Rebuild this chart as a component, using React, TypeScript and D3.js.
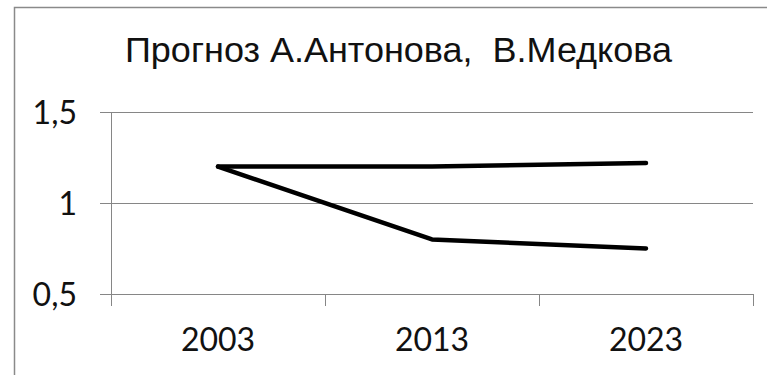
import React from "react";
import * as d3 from "d3";

const title = "Прогноз А.Антонова,  В.Медкова";
const categories = ["2003", "2013", "2023"];
const seriesA = [1.2, 1.2, 1.22];
const seriesB = [1.2, 0.8, 0.75];
const yTicks = [0.5, 1, 1.5];
const yTickLabels = ["0,5", "1", "1,5"];

const W = 767;
const H = 375;
const plotLeft = 111;
const plotRight = 753;
const plotTop = 112;
const plotBottom = 294;

export default function App() {
  const x = d3.scaleBand<string>().domain(categories).range([plotLeft, plotRight]);
  const y = d3.scaleLinear().domain([0.5, 1.5]).range([plotBottom, plotTop]);
  const line = d3
    .line<number>()
    .x((_, i) => (x(categories[i]) as number) + x.bandwidth() / 2)
    .y((d) => y(d));
  const grid = "#868686";
  const boundaries = [...categories.map((c) => x(c) as number), plotRight];
  return (
    <svg
      width={W}
      height={H}
      style={{ position: "absolute", left: 0, top: 0, background: "#fff" }}
    >
      <rect x={0} y={0} width={W} height={H} fill="#fff" />
      <rect x={14.5} y={7.5} width={W + 10} height={H + 10} fill="none" stroke="#8a8a8a" strokeWidth={1.5} />
      <text
        x={125}
        y={62}
        fontFamily="'Liberation Sans Narrow', 'Liberation Sans', Arial, sans-serif"
        fontSize={35}
        textLength={547}
        lengthAdjust="spacingAndGlyphs"
        fill="#111"
        style={{ whiteSpace: "pre" }}
      >
        {title}
      </text>
      {yTicks.map((t, i) => (
        <g key={t}>
          <line x1={plotLeft - 11} x2={plotRight} y1={Math.round(y(t)) + 0.5} y2={Math.round(y(t)) + 0.5} stroke={grid} strokeWidth={1} />
          <text
            x={77}
            y={y(t) + 12}
            textAnchor="end"
            fontFamily="Lato, 'Open Sans', sans-serif"
            fontSize={32}
            fill="#111"
          >
            {yTickLabels[i]}
          </text>
        </g>
      ))}
      <line x1={plotLeft + 0.5} x2={plotLeft + 0.5} y1={plotTop} y2={plotBottom + 12} stroke={grid} strokeWidth={1} />
      {boundaries.slice(1).map((b, i) => (
        <line key={i} x1={Math.round(b) + 0.5} x2={Math.round(b) + 0.5} y1={plotBottom} y2={plotBottom + 12} stroke={grid} strokeWidth={1} />
      ))}
      {categories.map((c) => (
        <text
          key={c}
          x={(x(c) as number) + x.bandwidth() / 2}
          y={351}
          textAnchor="middle"
          fontFamily="Lato, 'Open Sans', sans-serif"
          fontSize={32}
          fill="#111"
        >
          {c}
        </text>
      ))}
      <path d={line(seriesA) || ""} fill="none" stroke="#000" strokeWidth={4.5} strokeLinejoin="round" strokeLinecap="round" />
      <path d={line(seriesB) || ""} fill="none" stroke="#000" strokeWidth={4.5} strokeLinejoin="round" strokeLinecap="round" />
    </svg>
  );
}
